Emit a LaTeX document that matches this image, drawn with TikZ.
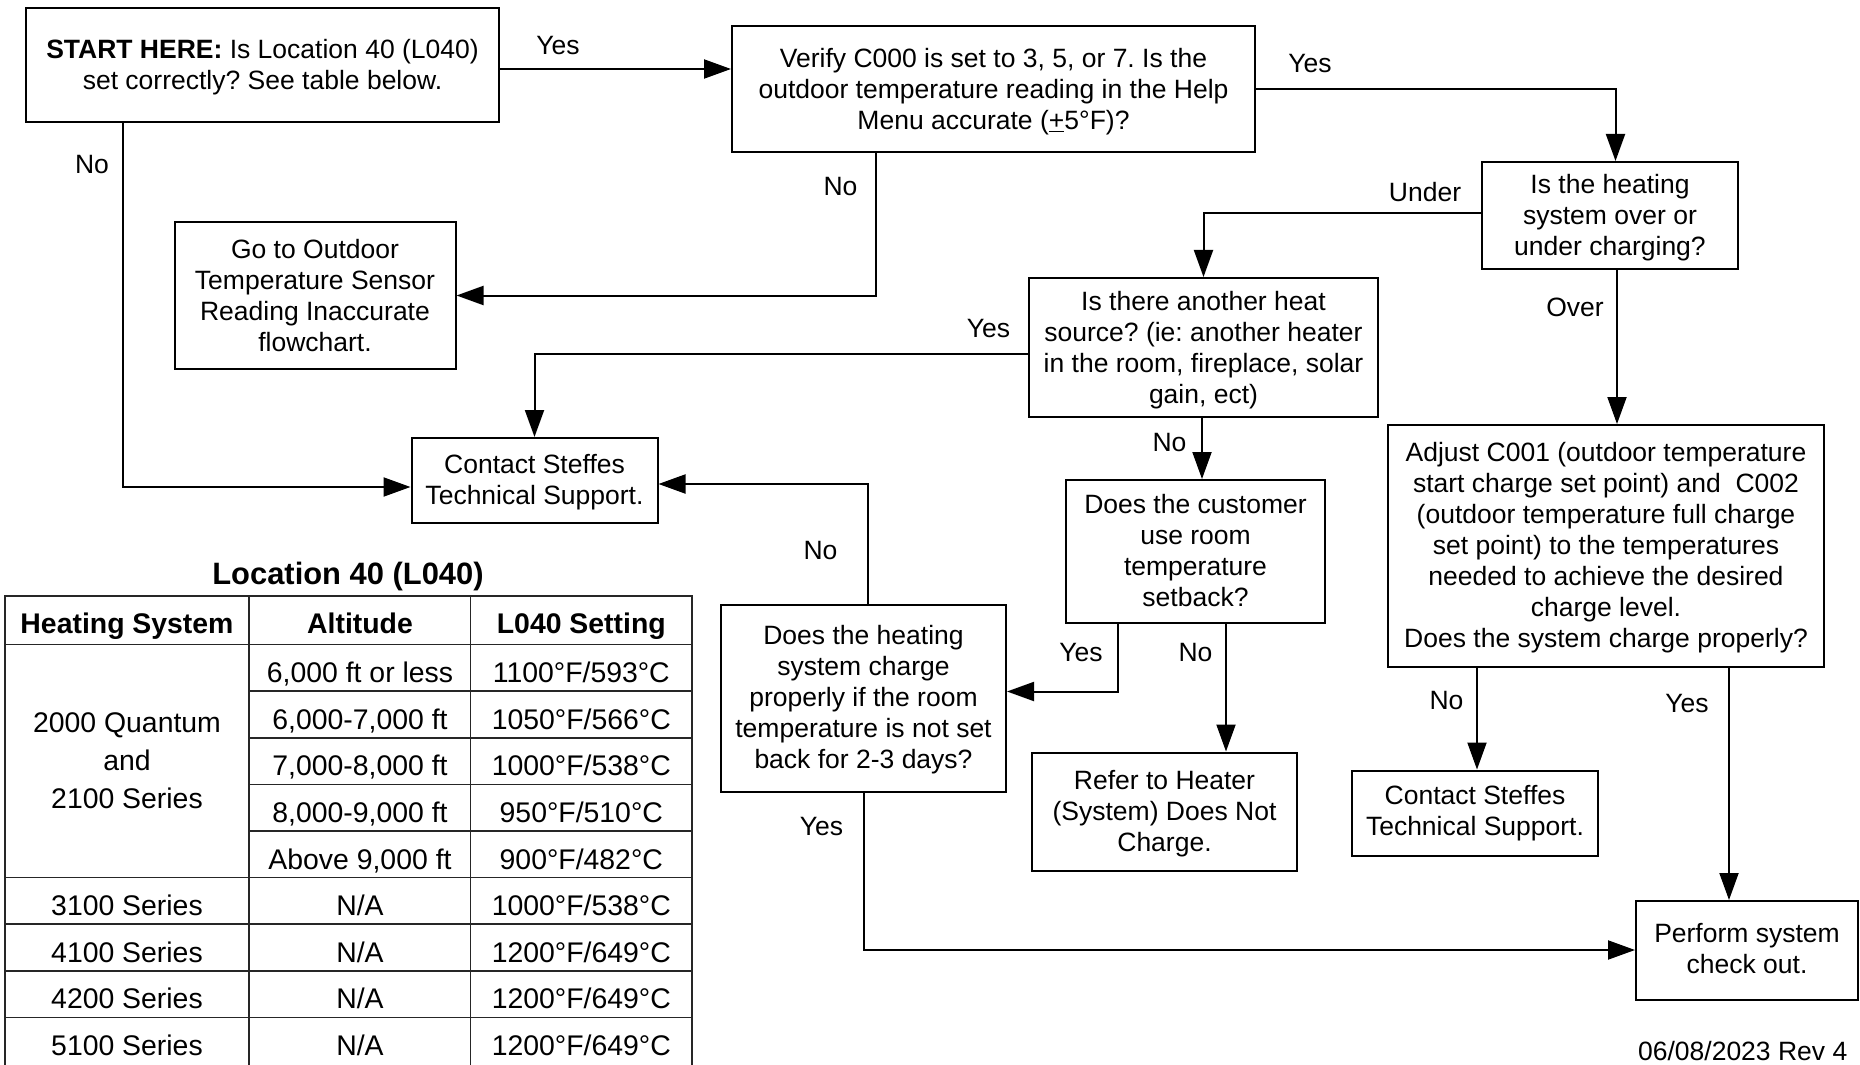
\documentclass[tikz,border=0pt]{standalone}
\usepackage{fontspec}
\setmainfont{Liberation Sans}
\usetikzlibrary{arrows.meta}
\frenchspacing
\begin{document}
\begin{tikzpicture}[x=0.5pt,y=-0.5pt,
  box/.style={draw=black, line width=1pt, inner sep=0pt},
  btxt/.style={align=center, inner sep=0pt, font=\fontsize{13.25}{15.5}\selectfont},
  arr/.style={line width=1pt, -{Triangle[length=13.5pt,width=9.5pt]}},
  lbl/.style={font=\fontsize{13.25}{15.5}\selectfont, inner sep=0pt},
  tcell/.style={font=\fontsize{14.2}{18.9}\selectfont, inner sep=0pt, anchor=base, align=center},
  thead/.style={tcell, font=\fontsize{14.2}{18.9}\selectfont\bfseries},
  tline/.style={line width=0.8pt, draw=black!85}]
\useasboundingbox (0,0) rectangle (1860,1065);

% ---------- boxes ----------
\node[box, minimum width=236.5pt, minimum height=57pt] (start) at (262.5,65) {};
\node[btxt, yshift=-1.1pt] (startT) at (start)
  {\textbf{START HERE:} Is Location 40 (L040)\\set correctly? See table below.};
\node[box, minimum width=261.5pt, minimum height=63pt] (verify) at (993.5,89) {};
\node[btxt, yshift=-1.1pt] (verifyT) at (verify)
  {Verify C000 is set to 3, 5, or 7. Is the\\outdoor temperature reading in the Help\\Menu accurate (\underline{+}5°F)?};
\node[box, minimum width=140.5pt, minimum height=73.5pt] (goto) at (315,295.5) {};
\node[btxt] (gotoT) at (goto)
  {Go to Outdoor\\Temperature Sensor\\Reading Inaccurate\\flowchart.};
\node[box, minimum width=128pt, minimum height=53.5pt] (heat) at (1610,215.5) {};
\node[btxt, yshift=-1.1pt] (heatT) at (heat)
  {Is the heating\\system over or\\under charging?};
\node[box, minimum width=174.5pt, minimum height=69.5pt] (another) at (1203.5,347.5) {};
\node[btxt, yshift=-1.1pt] (anotherT) at (another)
  {Is there another heat\\source? (ie: another heater\\in the room, fireplace, solar\\gain, ect)};
\node[box, minimum width=123pt, minimum height=42.25pt] (contactL) at (534.5,480.25) {};
\node[btxt, yshift=-1.1pt] (contactLT) at (contactL)
  {Contact Steffes\\Technical Support.};
\node[box, minimum width=129.5pt, minimum height=71.5pt] (customer) at (1195.5,551.5) {};
\node[btxt, yshift=0.5pt] (customerT) at (customer)
  {Does the customer\\use room\\temperature\\setback?};
\node[box, minimum width=218pt, minimum height=121pt] (adjust) at (1606,546) {};
\node[btxt, yshift=-0.9pt] (adjustT) at (adjust)
  {Adjust C001 (outdoor temperature\\start charge set point) and~~C002\\(outdoor temperature full charge\\set point) to the temperatures\\needed to achieve the desired\\charge level.\\Does the system charge properly?};
\node[box, minimum width=142.5pt, minimum height=93.25pt] (chargeq) at (863.5,698.25) {};
\node[btxt, yshift=-0.9pt] (chargeqT) at (chargeq)
  {Does the heating\\system charge\\properly if the room\\temperature is not set\\back for 2-3 days?};
\node[box, minimum width=132.5pt, minimum height=59pt] (refer) at (1164.5,811.5) {};
\node[btxt, yshift=-1.1pt] (referT) at (refer)
  {Refer to Heater\\(System) Does Not\\Charge.};
\node[box, minimum width=123pt, minimum height=42.5pt] (contactR) at (1475,813) {};
\node[btxt, yshift=-0.3pt] (contactRT) at (contactR)
  {Contact Steffes\\Technical Support.};
\node[box, minimum width=111pt, minimum height=49.5pt] (perform) at (1747,950.5) {};
\node[btxt, yshift=1.1pt] (performT) at (perform)
  {Perform system\\check out.};

% ---------- helper coordinates ----------
\coordinate (yA) at (0,69);
\coordinate (xB) at (123,0);   \coordinate (yB) at (0,487);
\coordinate (xC) at (876,0);   \coordinate (yC) at (0,295.5);
\coordinate (xD) at (1615.5,0);
\coordinate (yE) at (0,213.5);
\coordinate (xF) at (1617,0);
\coordinate (yG) at (0,353.5);
\coordinate (xH) at (1202,0);
\coordinate (xI) at (1118,0);  \coordinate (yI) at (0,691.5);
\coordinate (xJ) at (1226,0);
\coordinate (xK) at (868,0);   \coordinate (yK) at (0,484);
\coordinate (yL) at (0,950);
\coordinate (xM) at (1477,0);
\coordinate (xN) at (1729,0);

% ---------- connectors ----------
\draw[arr] (start.east |- yA) -- (verify.west |- yA);
\draw[arr] (start.south -| xB) |- (contactL.west |- yB);
\draw[arr] (verify.south -| xC) |- (goto.east |- yC);
\draw[arr] (verify.east) -| (heat.north -| xD);
\draw[arr] (heat.west |- yE) -| (another.north);
\draw[arr] (heat.south -| xF) -- (adjust.north -| xF);
\draw[arr] (another.west |- yG) -| (contactL.north);
\draw[arr] (another.south -| xH) -- (customer.north -| xH);
\draw[arr] (customer.south -| xI) |- (chargeq.east |- yI);
\draw[arr] (customer.south -| xJ) -- (refer.north -| xJ);
\draw[arr] (chargeq.north -| xK) |- (contactL.east |- yK);
\draw[arr] (chargeq.south) |- (perform.west |- yL);
\draw[arr] (adjust.south -| xM) -- (contactR.north -| xM);
\draw[arr] (adjust.south -| xN) -- (perform.north -| xN);

% ---------- connector labels ----------
\node[lbl] (l1) at (558,46) {Yes};
\node[lbl] (l2) at (92,165) {No};
\node[lbl] (l3) at (840.5,186.5) {No};
\node[lbl] (l4) at (1310,63.5) {Yes};
\node[lbl] (l5) at (1425,192.5) {Under};
\node[lbl] (l6) at (1575,307) {Over};
\node[lbl] (l7) at (988.5,329) {Yes};
\node[lbl] (l8) at (1169.5,442.5) {No};
\node[lbl] (l9) at (820.5,551) {No};
\node[lbl] (l10) at (1081,653) {Yes};
\node[lbl] (l11) at (1195.5,652.5) {No};
\node[lbl] (l12) at (821.5,826.5) {Yes};
\node[lbl] (l13) at (1446.5,701) {No};
\node[lbl] (l14) at (1687,704) {Yes};
\node[lbl] (date) at (1742.7,1051) {06/08/2023 Rev 4};

% ---------- table ----------
\node[tcell, font=\fontsize{15.45}{18}\selectfont\bfseries] (ttitle) at (348,584) {Location 40 (L040)};
\draw[tline] (5,596) rectangle (692,1066);
\draw[tline] (249,596) -- (249,1066);
\draw[tline] (470.6,596) -- (470.6,1066);
\draw[tline] (5,644.5) -- (692,644.5);
\foreach \yy in {691,737.7,784.3,831} \draw[tline] (249,\yy) -- (692,\yy);
\foreach \yy in {877.5,924,970.7,1017.3} \draw[tline] (5,\yy) -- (692,\yy);

\node[thead] (h1) at (127,633) {Heating System};
\node[thead] (h2) at (360,633) {Altitude};
\node[thead] (h3) at (581.3,633) {L040 Setting};

\node[tcell] (s1a) at (127,732.5) {2000 Quantum};
\node[tcell] (s1b) at (127,770.5) {and};
\node[tcell] (s1c) at (127,808) {2100 Series};

\node[tcell] (a1) at (360,682.5) {6,000 ft or less};
\node[tcell] (v1) at (581.3,682.5) {1100°F/593°C};
\node[tcell] (a2) at (360,729) {6,000-7,000 ft};
\node[tcell] (v2) at (581.3,729) {1050°F/566°C};
\node[tcell] (a3) at (360,775.7) {7,000-8,000 ft};
\node[tcell] (v3) at (581.3,775.7) {1000°F/538°C};
\node[tcell] (a4) at (360,822.3) {8,000-9,000 ft};
\node[tcell] (v4) at (581.3,822.3) {950°F/510°C};
\node[tcell] (a5) at (360,869) {Above 9,000 ft};
\node[tcell] (v5) at (581.3,869) {900°F/482°C};

\node[tcell] (s2) at (127,915.5) {3100 Series};
\node[tcell] (a6) at (360,915.5) {N/A};
\node[tcell] (v6) at (581.3,915.5) {1000°F/538°C};
\node[tcell] (s3) at (127,962) {4100 Series};
\node[tcell] (a7) at (360,962) {N/A};
\node[tcell] (v7) at (581.3,962) {1200°F/649°C};
\node[tcell] (s4) at (127,1008.7) {4200 Series};
\node[tcell] (a8) at (360,1008.7) {N/A};
\node[tcell] (v8) at (581.3,1008.7) {1200°F/649°C};
\node[tcell] (s5) at (127,1055.3) {5100 Series};
\node[tcell] (a9) at (360,1055.3) {N/A};
\node[tcell] (v9) at (581.3,1055.3) {1200°F/649°C};
\end{tikzpicture}
\end{document}
